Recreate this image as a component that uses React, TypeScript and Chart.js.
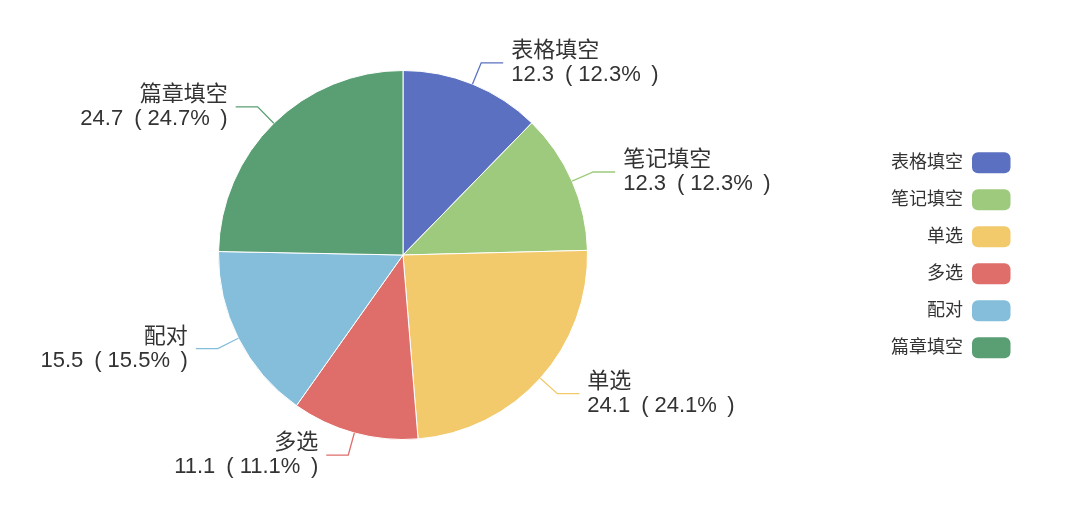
import React, { useEffect, useRef } from 'react';
import Chart from 'chart.js/auto';

const categories = ['表格填空', '笔记填空', '单选', '多选', '配对', '篇章填空'];
const values = [12.3, 12.3, 24.1, 11.1, 15.5, 24.7];
const colors = ['#5b70c1', '#9dca7c', '#f2c96b', '#df6e6a', '#84bedb', '#5a9f74'];

const FONT = '"Liberation Sans", "Noto Sans CJK SC", sans-serif';

// draws "12.3 ( 12.3% )" piece by piece so the paren spacing looks like the original
const drawValueLine = (ctx: CanvasRenderingContext2D, text: string[], x: number, y: number, dir: number) => {
  const gaps = [0, 11, 6, 10.5];
  const widths = text.map((t) => ctx.measureText(t).width);
  const total = widths.reduce((a, b) => a + b, 0) + gaps.reduce((a, b) => a + b, 0);
  let cx = dir > 0 ? x : x - total;
  ctx.textAlign = 'left';
  text.forEach((t, k) => {
    cx += gaps[k];
    ctx.fillText(t, cx, y);
    cx += widths[k];
  });
};

// outside labels with two-segment leader lines, echarts style
const pieLabels = {
  id: 'pieLabels',
  afterDatasetsDraw(chart: Chart) {
    const ctx = chart.ctx;
    const meta = chart.getDatasetMeta(0);
    const total = values.reduce((a, b) => a + b, 0);
    ctx.save();
    meta.data.forEach((arc: any, i: number) => {
      const { x, y, startAngle, endAngle, outerRadius } = arc.getProps(
        ['x', 'y', 'startAngle', 'endAngle', 'outerRadius'],
        true
      );
      const mid = (startAngle + endAngle) / 2;
      const cos = Math.cos(mid);
      const sin = Math.sin(mid);
      const p0x = x + outerRadius * cos;
      const p0y = y + outerRadius * sin;
      const p1x = x + (outerRadius + 23) * cos;
      const p1y = y + (outerRadius + 23) * sin;
      const dir = cos >= 0 ? 1 : -1;
      const p2x = p1x + dir * 22;

      ctx.strokeStyle = colors[i];
      ctx.lineWidth = 1.3;
      ctx.beginPath();
      ctx.moveTo(p0x, p0y);
      ctx.lineTo(p1x, p1y);
      ctx.lineTo(p2x, p1y);
      ctx.stroke();

      const pct = ((values[i] / total) * 100).toFixed(1);
      ctx.fillStyle = '#333';
      ctx.font = '22px ' + FONT;
      ctx.textAlign = dir > 0 ? 'left' : 'right';
      ctx.textBaseline = 'middle';
      const tx = p2x + dir * 8;
      ctx.fillText(categories[i], tx, p1y - 12);
      drawValueLine(ctx, [String(values[i]), '(', pct + '%', ')'], tx, p1y + 12, dir);
    });
    ctx.restore();
  },
};

const sideLegend = {
  id: 'sideLegend',
  afterDraw(chart: Chart) {
    const ctx = chart.ctx;
    ctx.save();
    ctx.font = '18px ' + FONT;
    ctx.textAlign = 'right';
    ctx.textBaseline = 'middle';
    categories.forEach((name, i) => {
      const cy = 162.8 + i * 37;
      ctx.fillStyle = '#333';
      ctx.fillText(name, 963, cy);
      ctx.fillStyle = colors[i];
      ctx.beginPath();
      (ctx as any).roundRect(972, cy - 10.5, 38.5, 21, 6);
      ctx.fill();
    });
    ctx.restore();
  },
};

const App: React.FC = () => {
  const canvasRef = useRef<HTMLCanvasElement>(null);
  const chartInstance = useRef<Chart>();

  useEffect(() => {
    if (!canvasRef.current) return;
    const ctx = canvasRef.current.getContext('2d');
    if (!ctx) return;
    if (chartInstance.current) chartInstance.current.destroy();

    chartInstance.current = new Chart(ctx, {
      type: 'pie',
      data: {
        labels: categories,
        datasets: [
          {
            data: values,
            backgroundColor: colors,
            borderColor: '#ffffff',
            borderWidth: 1,
          },
        ],
      },
      options: {
        animation: false,
        responsive: true,
        maintainAspectRatio: false,
        layout: { padding: { top: 70, bottom: 74, left: 218, right: 492 } },
        plugins: {
          legend: { display: false },
          tooltip: { enabled: false },
        },
      },
      plugins: [pieLabels, sideLegend],
    });

    return () => {
      if (chartInstance.current) {
        chartInstance.current.destroy();
        chartInstance.current = undefined;
      }
    };
  }, []);

  return (
    <div style={{ position: 'absolute', left: 0, top: 0, width: 1080, height: 514, background: '#fff' }}>
      <canvas ref={canvasRef} />
    </div>
  );
};

export default App;
